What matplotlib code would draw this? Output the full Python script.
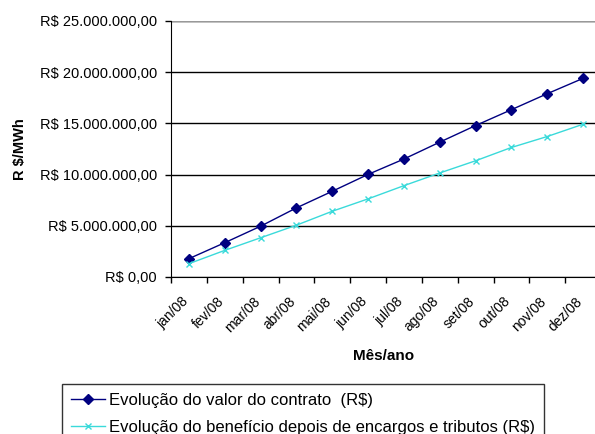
import matplotlib
matplotlib.use("Agg")
import matplotlib.pyplot as plt
from matplotlib.ticker import FuncFormatter, MultipleLocator
from matplotlib.transforms import ScaledTranslation

plt.rcParams['font.family'] = ['Liberation Sans', 'DejaVu Sans']

meses = ["jan/08", "fev/08", "mar/08", "abr/08", "mai/08", "jun/08",
         "jul/08", "ago/08", "set/08", "out/08", "nov/08", "dez/08"]
valor_contrato = [1.79e6, 3.35e6, 4.96e6, 6.75e6, 8.37e6, 10.02e6,
                  11.52e6, 13.17e6, 14.79e6, 16.34e6, 17.90e6, 19.40e6]
beneficio = [1.30e6, 2.60e6, 3.83e6, 5.06e6, 6.42e6, 7.63e6,
             8.92e6, 10.16e6, 11.35e6, 12.65e6, 13.72e6, 14.92e6]

W, H = 595, 434
fig = plt.figure(figsize=(W / 100, H / 100), dpi=100)
ax = fig.add_axes([171 / W, (H - 277) / H, 430 / W, 256 / H])

x = list(range(len(meses)))
l1, = ax.plot(x, valor_contrato, color='#000080', lw=1.0, marker='D',
              markersize=5, markerfacecolor='#000080', markeredgecolor='#000080')
l2, = ax.plot(x, beneficio, color='#3ADADA', lw=1.0, marker='x',
              markersize=5, markeredgewidth=1.0)

ax.set_xlim(-0.5, len(meses) - 0.5)
ax.set_ylim(0, 25e6)
ax.yaxis.set_major_locator(MultipleLocator(5e6))


def brl(v, pos):
    s = f"{v:,.2f}".replace(",", "X").replace(".", ",").replace("X", ".")
    return "R$ " + s


ax.yaxis.set_major_formatter(FuncFormatter(brl))
ax.grid(axis='y', color='black', lw=1.0)
ax.set_axisbelow(True)

# category boundaries carry the tick marks, category centres carry the labels
ax.set_xticks([i - 0.5 for i in range(len(meses) + 1)])
ax.set_xticklabels([])
ax.set_xticks(x, minor=True)
ax.set_xticklabels(meses, minor=True, rotation=45, ha='right',
                   rotation_mode='anchor', va='center', fontsize=10)
ax.tick_params(axis='x', which='minor', length=0, pad=16)
ax.tick_params(axis='x', which='major', length=4, width=1, direction='out')
ax.tick_params(axis='y', length=4, width=1, direction='out', labelsize=10.5,
               pad=6)
shift = ScaledTranslation(-3 / 100, 0, fig.dpi_scale_trans)
for lab in ax.get_xticklabels(minor=True):
    lab.set_transform(lab.get_transform() + shift)

for side in ('top', 'right'):
    ax.spines[side].set_visible(False)
ax.spines['left'].set_color('black')
ax.spines['bottom'].set_color('black')
ax.axhline(25e6, color='#999999', lw=1.0)

ax.set_ylabel("R $/MWh", fontsize=10.5, fontweight='bold')
ax.yaxis.set_label_coords((27 - 171) / 430, 0.5)
ax.set_xlabel("Mês/ano", fontsize=11, fontweight='bold')
ax.xaxis.set_label_coords((384 - 171) / 430, -(349 - 277) / 256)

leg = fig.legend([l1, l2],
                 ["Evolução do valor do contrato  (R$)",
                  "Evolução do benefício depois de encargos e tributos (R$)"],
                 loc='upper left', bbox_to_anchor=(62 / W, 1 - 384 / H),
                 fontsize=12, frameon=True, fancybox=False, edgecolor='black',
                 handlelength=2.0, handletextpad=0.25, borderpad=0.55,
                 labelspacing=0.7, borderaxespad=0)
leg.get_frame().set_linewidth(1.0)

fig.savefig("out.png", dpi=100)
